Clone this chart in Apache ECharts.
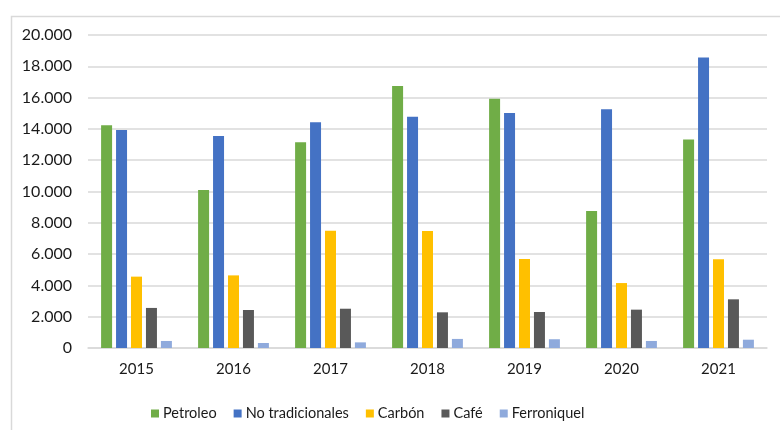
<!DOCTYPE html>
<html><head><meta charset="utf-8">
<script src="https://cdn.jsdelivr.net/npm/echarts@6/dist/echarts.min.js"></script>
<style>html,body{margin:0;padding:0;background:#fff}#c{width:780px;height:430px}</style>
</head><body><div id="c"></div>
<script>
const categories = ['2015','2016','2017','2018','2019','2020','2021'];
const petroleo = [14230, 10100, 13140, 16740, 15930, 8750, 13330];
const noTradicionales = [13930, 13550, 14420, 14780, 15020, 15250, 18570];
const carbon = [4560, 4640, 7500, 7480, 5690, 4150, 5670];
const cafe = [2560, 2430, 2510, 2280, 2300, 2450, 3110];
const ferroniquel = [450, 320, 360, 580, 560, 450, 530];
const yTicks = {min: 0, max: 20000, interval: 2000};

const names = ['Petroleo','No tradicionales','Carbón','Café','Ferroniquel'];
const colors = ['#70AD47','#4472C4','#FFC000','#595959','#8FAADC'];
const datas = [petroleo, noTradicionales, carbon, cafe, ferroniquel];
const font = 'Lato';

const chart = echarts.init(document.getElementById('c'));
chart.setOption({
  animation: false,
  textStyle: {fontFamily: font},
  graphic: [{type:'rect', left: 9, top: 14, shape:{width: 800, height: 450}, style:{fill:'none', stroke:'#d9d9d9', lineWidth:1.5}, silent:true, z:-10}],
  grid: {left: 88, right: 13, top: 35, bottom: 82, containLabel: false},
  legend: {
    data: names, left: 146, top: 401, itemWidth: 8, itemHeight: 8, itemGap: 17,
    icon: 'rect', textStyle: {fontSize: 14.5, color: '#1a1a1a', fontFamily: font, padding:[0,0,0,-1]}
  },
  xAxis: {
    type: 'category', data: categories,
    axisLine: {lineStyle: {color: '#d9d9d9', width: 1.5}},
    axisTick: {show: false},
    axisLabel: {fontSize: 15, color: '#1a1a1a', margin: 14, fontFamily: font}
  },
  yAxis: {
    type: 'value', min: yTicks.min, max: yTicks.max, interval: yTicks.interval,
    axisLine: {show: false}, axisTick: {show: false},
    splitLine: {lineStyle: {color: '#d9d9d9', width: 1.5}},
    axisLabel: {fontSize: 16, color: '#1a1a1a', margin: 16, fontFamily: font,
      formatter: v => v === 0 ? '0' : (v/1000).toFixed(3)}
  },
  series: names.map((n,i) => ({
    name: n, type: 'bar', data: datas[i], barGap: '36%', barCategoryGap: '27%',
    itemStyle: {color: colors[i]}
  }))
});
</script></body></html>
